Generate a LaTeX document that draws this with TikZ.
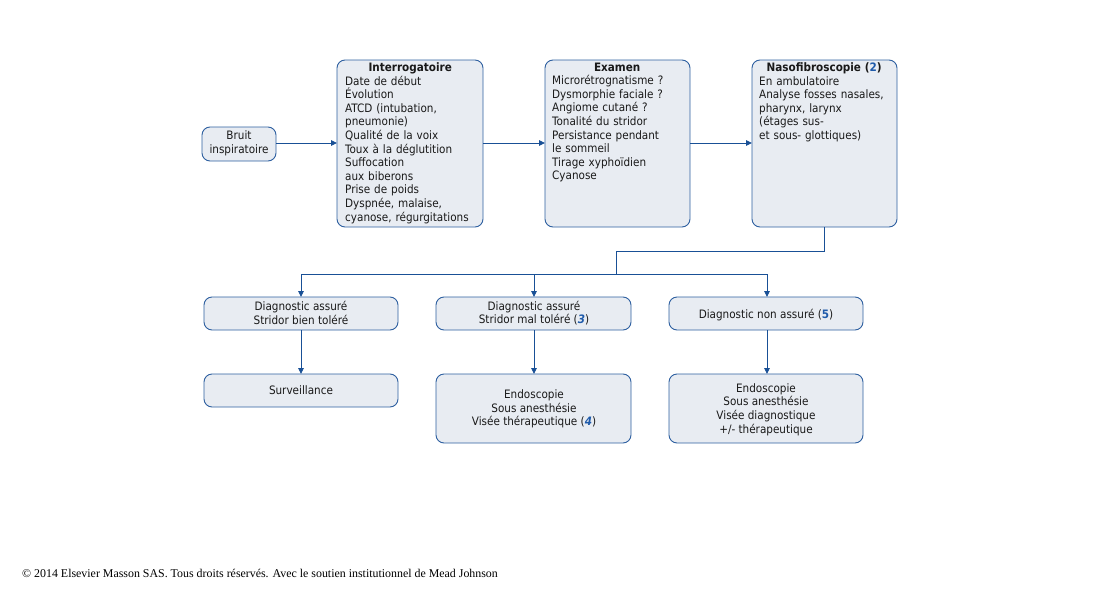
\documentclass[tikz,border=0pt]{standalone}
\usepackage{fontspec}
\setmainfont{DejaVu Sans Condensed}
\newfontfamily\footfont{Liberation Serif}
\usetikzlibrary{arrows.meta}
\definecolor{boxfill}{RGB}{232,236,242}
\definecolor{boxline}{RGB}{45,95,160}
\definecolor{linkcol}{RGB}{25,80,150}
\definecolor{numcol}{RGB}{30,90,170}
\newcommand{\num}[1]{\textcolor{numcol}{\textbf{#1}}}
\newcommand{\inum}[1]{\textcolor{numcol}{\textbf{\textit{#1}}}}
\begin{document}
\begin{tikzpicture}[x=1pt,y=-1pt,
  box/.style={draw=boxline, fill=boxfill, line width=0.9pt, rounded corners=8pt},
  txt/.style={inner sep=0pt, font=\fontsize{11.6}{13.6}\selectfont, text=black!90},
  link/.style={draw=linkcol, line width=0.9pt},
  arr/.style={link, -{Triangle[length=6pt,width=5.5pt]}}]
\useasboundingbox (0,0) rectangle (1096,592);
% top row boxes
\draw[box] (202,127) rectangle (276,161); \coordinate (bruitc) at (239,143.5);
\node[txt, align=center] (bruit) at (bruitc) {Bruit\\inspiratoire};

\draw[box] (337,60) rectangle (483,227);
\draw[box] (545,60) rectangle (690,227);
\draw[box] (752,60) rectangle (897,227);
\coordinate (interW) at (337,143); \coordinate (interE) at (483,143);
\coordinate (examW) at (545,143); \coordinate (examE) at (690,143);
\coordinate (nasoW) at (752,143); \coordinate (nasoS) at (824,227);
\coordinate (bruitE) at (276,143);

\node[txt, anchor=north west, text width=136pt, align=left] (interT) at (345,62.5)
 {\makebox[130pt]{\bfseries Interrogatoire}\\Date de début\\Évolution\\ATCD (intubation,\\pneumonie)\\Qualité de la voix\\Toux à la déglutition\\Suffocation\\aux biberons\\Prise de poids\\Dyspnée, malaise,\\cyanose, régurgitations};
\node[txt, anchor=north west, text width=134pt, align=left] (examT) at (552,62.5)
 {\makebox[130pt]{\bfseries Examen}\\Microrétrognatisme ?\\Dysmorphie faciale ?\\Angiome cutané ?\\Tonalité du stridor\\Persistance pendant\\le sommeil\\Tirage xyphoïdien\\Cyanose};
\node[txt, anchor=north west, text width=134pt, align=left] (nasoT) at (759,62.5)
 {\makebox[130pt]{\bfseries Nasofibroscopie (\num{2})}\\En ambulatoire\\Analyse fosses nasales,\\pharynx, larynx\\(étages sus-\\et sous- glottiques)};

\draw[arr] (bruitE) -- (interW);
\draw[arr] (interE) -- (examW);
\draw[arr] (examE) -- (nasoW);

% second row
\draw[box] (204,297) rectangle (398,330);
\draw[box] (436,297) rectangle (631,330);
\draw[box] (669,297) rectangle (863,330);
\node[txt, align=center] (d1) at (301,313) {Diagnostic assuré\\Stridor bien toléré};
\node[txt, align=center] (d2) at (534,313) {Diagnostic assuré\\Stridor mal toléré (\inum{3})};
\node[txt, align=center] (d3) at (766,315) {Diagnostic non assuré (\num{5})};
\coordinate (d1N) at (301,297); \coordinate (d2N) at (534,297); \coordinate (d3N) at (767,297);
\coordinate (d1S) at (301,330); \coordinate (d2S) at (534,330); \coordinate (d3S) at (767,330);

% third row
\draw[box] (204,374) rectangle (398,407);
\draw[box] (436,374) rectangle (631,443);
\draw[box] (669,374) rectangle (863,443);
\node[txt, align=center] (e1) at (301,390.5) {Surveillance};
\node[txt, align=center] (e2) at (534,409) {Endoscopie\\Sous anesthésie\\Visée thérapeutique (\inum{4})};
\node[txt, align=center] (e3) at (766,409.5) {Endoscopie\\Sous anesthésie\\Visée diagnostique\\+/- thérapeutique};
\coordinate (e1N) at (301,374); \coordinate (e2N) at (534,374); \coordinate (e3N) at (767,374);

% connectors
\coordinate (k1) at (824,251); \coordinate (k2) at (616,251); \coordinate (k3) at (616,274);
\coordinate (h1) at (301,274); \coordinate (h2) at (534,274); \coordinate (h3) at (767,274);
\draw[link] (nasoS) -- (k1) -- (k2) -- (k3);
\draw[link] (h1) -- (h3);
\draw[arr] (h1) -- (d1N);
\draw[arr] (h2) -- (d2N);
\draw[arr] (h3) -- (d3N);
\draw[arr] (d1S) -- (e1N);
\draw[arr] (d2S) -- (e2N);
\draw[arr] (d3S) -- (e3N);

\node[inner sep=0pt, anchor=west, font=\footfont\fontsize{11.9}{13}\selectfont] (foot) at (22,573.5)
 {© 2014 Elsevier Masson SAS. Tous droits réservés. Avec le soutien institutionnel de Mead Johnson};
\end{tikzpicture}
\end{document}
